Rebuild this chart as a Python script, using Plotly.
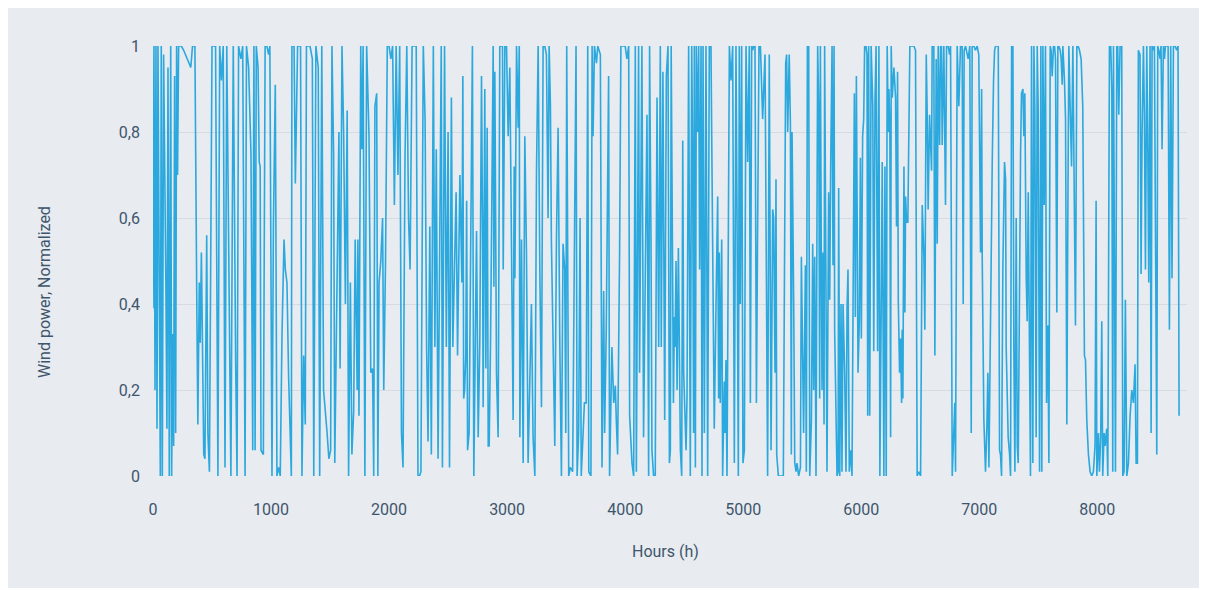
import plotly.graph_objects as go

# Hourly wind power (normalized)
hours_0 = [0,8,17,25,34,42,62,70,79,90,110,118,127,138,150,158,167,175,183,192,200,208,217,240,260,290,320,335,355,372,380,392,400,410,420,430,440,455,465,478,500,515,530,550,565,580,595,610,625,660,670,680,700,712,725,745,760,780,792,810,830,845]
power_0 = [0.39,1.0,0.2,1.0,0.11,1.0,0.0,1.0,0.0,0.98,0.42,0.11,0.95,0.0,1.0,0.0,0.33,0.07,0.93,0.10,1.0,0.70,1.0,1.0,0.99,0.97,0.95,1.0,1.0,0.37,0.12,0.45,0.31,0.52,0.30,0.05,0.04,0.56,0.10,0.01,1.0,1.0,1.0,0.0,1.0,0.92,1.0,0.02,1.0,0.0,0.60,1.0,0.27,0.0,1.0,0.97,1.0,0.0,1.0,0.95,0.75,0.06]

hours_1 = [855,865,875,890,900,908,915,935,950,965,980,990,1008,1020,1036,1050,1065,1078,1093,1110,1121,1135,1149,1160,1172,1177,1195,1206,1225,1250,1262,1276,1290,1300,1330,1350,1362,1380,1400,1412,1430,1445,1462,1475,1490,1505,1516,1530,1540,1555,1575,1585,1601,1615,1630,1645,1657,1672,1685,1700,1713,1730]
power_1 = [1.0,0.06,1.0,0.95,0.73,0.72,0.06,0.05,1.0,1.0,0.98,1.0,0.0,0.58,0.91,0.0,0.02,0.0,0.33,0.55,0.48,0.45,0.23,0.10,0.0,1.0,1.0,0.68,1.0,1.0,0.0,0.28,0.12,1.0,1.0,0.97,0.0,1.0,0.95,0.0,1.0,0.2,0.15,0.1,0.04,0.06,1.0,0.75,0.03,0.4,0.8,0.25,1.0,0.8,0.4,0.85,0.0,0.45,0.05,0.15,0.55,0.2]

hours_2 = [1736,1745,1760,1770,1780,1795,1810,1830,1845,1860,1870,1880,1895,1905,1915,1930,1945,1955,1970,1985,2000,2015,2030,2045,2060,2075,2090,2105,2118,2135,2150,2165,2178,2195,2210,2230,2245,2258,2270,2290,2305,2318,2330,2345,2358,2375,2388,2400,2415,2428,2442,2452,2470,2485,2500,2512,2528,2540,2555,2568,2580,2600]
power_2 = [0.55,0.14,1.0,0.76,1.0,0.0,1.0,0.79,0.24,0.25,0.0,0.86,0.89,0.0,0.45,0.5,0.6,0.2,0.5,1.0,1.0,0.97,1.0,0.63,1.0,0.7,1.0,0.1,0.02,0.74,1.0,0.6,0.48,1.0,1.0,1.0,0.0,0.0,0.01,1.0,0.83,0.3,0.08,0.58,0.05,1.0,0.3,0.76,0.04,0.6,1.0,0.02,1.0,0.3,0.8,0.02,0.88,0.3,0.5,0.66,0.28,0.7]

hours_3 = [2617,2625,2632,2640,2650,2657,2665,2678,2706,2718,2741,2755,2769,2783,2792,2797,2811,2820,2831,2840,2848,2860,2874,2882,2888,2896,2910,2924,2938,2952,2961,2967,2981,2995,3009,3023,3037,3051,3060,3066,3080,3094,3103,3108,3122,3136,3150,3164,3178,3192,3206,3220,3235,3249,3263,3277,3291,3305,3319,3333,3347,3356,3367,3375,3390,3404,3418,3432,3446,3460,3474,3488]
power_3 = [0.45,0.93,0.18,0.2,0.28,0.64,0.06,0.1,1.0,0.0,0.57,0.09,0.32,0.93,0.57,0.16,0.9,0.25,0.81,0.07,0.07,0.32,0.75,1.0,0.44,0.94,0.24,0.09,1.0,1.0,1.0,0.48,1.0,1.0,0.79,0.95,0.6,0.13,0.72,0.46,1.0,0.81,1.0,0.09,0.55,0.03,0.79,0.52,0.03,0.24,0.4,0.09,0.0,0.71,1.0,0.48,0.16,1.0,1.0,0.98,0.6,1.0,0.86,0.55,0.32,0.07,0.55,0.81,0.32,0.0,0.54,0.48]

hours_4 = [3497,3505,3522,3535,3555,3584,3593,3606,3618,3628,3655,3670,3683,3692,3710,3720,3728,3740,3757,3768,3790,3804,3818,3826,3840,3860,3868,3888,3903,3917,3925,3936,3953,3964,3985,4000,4015,4030,4038,4058,4072,4086,4095,4114,4122,4142,4156,4170,4185,4199,4207,4219,4227,4241,4255,4270,4284,4298,4306,4320,4335,4349,4363,4375]
power_4 = [0.1,1.0,0.0,0.02,0.01,1.0,0.0,0.1,0.6,0.0,0.17,0.17,1.0,0.01,0.0,1.0,0.79,1.0,0.96,1.0,0.98,0.02,0.43,0.1,0.34,0.93,0.0,0.3,0.17,0.21,0.13,0.05,0.52,1.0,1.0,1.0,0.97,1.0,0.14,0.03,0.0,1.0,0.01,1.0,0.24,1.0,0.09,0.4,0.84,0.0,1.0,0.55,0.06,0.0,0.0,0.88,0.3,1.0,0.3,0.94,0.13,0.93,1.0,0.03]

hours_5 = [4383,4390,4409,4417,4423,4431,4440,4451,4459,4468,4479,4488,4496,4508,4516,4524,4538,4552,4564,4572,4580,4586,4595,4603,4614,4623,4631,4643,4651,4660,4671,4685,4693,4699,4713,4727,4741,4755,4770,4784,4792,4798,4806,4818,4826,4840,4846,4854,4863,4883,4897,4911,4925,4939,4948,4959,4967,4976,4987,4998,5010,5024,5038,5052,5061,5072,5080,5089,5100,5112,5123,5134,5146,5165,5185,5207,5221,5236,5250]
power_5 = [0.06,1.0,0.17,0.37,0.3,0.5,0.2,0.53,0.24,0.06,0.0,0.78,0.24,0.13,0.06,0.18,1.0,0.0,1.0,0.74,0.1,1.0,0.02,1.0,0.8,1.0,0.48,1.0,0.0,1.0,0.1,1.0,0.32,0.0,1.0,1.0,0.55,0.11,0.4,0.65,0.18,0.52,0.17,0.55,0.0,0.22,0.1,0.27,0.0,1.0,0.92,1.0,0.03,1.0,0.6,0.0,1.0,0.4,1.0,0.03,0.06,1.0,0.73,1.0,0.17,1.0,0.99,1.0,1.0,0.17,0.6,1.0,1.0,0.83,0.98,0.0,0.98,0.06,0.62]

hours_6 = [5258,5270,5278,5284,5292,5298,5340,5360,5368,5377,5390,5400,5408,5414,5428,5437,5448,5456,5470,5485,5493,5504,5512,5527,5535,5544,5555,5564,5578,5589,5597,5606,5617,5631,5640,5648,5654,5662,5668,5676,5685,5690,5702,5710,5724,5733,5741,5753,5761,5770,5775,5787,5795,5804,5809,5818,5829,5837,5846,5860,5871,5880,5888,5899,5911,5922,5933,5942,5950,5959,5973,5984,5993,6001,6012,6021,6029,6040,6049,6055,6063,6072,6084,6098,6106,6117,6126]
power_6 = [0.6,0.24,0.69,0.05,0.01,0.0,0.0,0.96,0.98,0.8,0.98,0.82,0.05,0.8,0.4,0.03,0.01,0.03,0.0,0.02,0.51,0.3,0.1,0.49,0.01,1.0,1.0,0.0,0.13,0.54,0.2,0.51,0.0,1.0,0.86,0.18,1.0,0.51,0.2,0.52,0.12,1.0,0.48,0.01,0.66,0.41,0.71,1.0,0.49,1.0,0.34,0.1,0.0,0.01,0.67,0.0,0.4,0.01,0.4,0.24,0.01,0.39,0.48,0.01,0.06,0.0,0.61,0.89,0.37,0.93,0.24,0.36,0.74,0.32,0.79,0.83,1.0,1.0,0.98,0.14,1.0,0.14,1.0,0.86,0.29,0.88,1.0]

hours_7 = [6139,6150,6158,6172,6178,6192,6201,6212,6220,6229,6235,6243,6249,6254,6263,6277,6291,6299,6308,6314,6325,6333,6342,6347,6353,6362,6370,6376,6384,6395,6404,6412,6432,6446,6460,6474,6488,6503,6517,6531,6539,6551,6559,6567,6579,6587,6596,6601,6615,6624,6635,6644,6652,6664,6672,6680,6686,6700,6714,6723,6737,6748,6757,6771,6785,6793,6799,6813,6827,6841,6855,6864,6872,6884,6898,6906,6920,6932,6940,6954,6968,6982,6996,7011]
power_7 = [0.29,1.0,0.0,0.48,0.73,0.0,0.72,0.0,1.0,0.8,0.9,0.79,0.09,1.0,0.88,0.95,0.88,0.58,0.94,0.41,0.24,0.32,0.17,0.34,0.18,0.72,0.38,0.65,0.59,0.59,0.86,1.0,1.0,1.0,0.99,0.0,0.01,0.0,0.63,0.51,0.34,0.98,0.84,0.62,0.84,0.79,0.71,1.0,1.0,0.28,0.97,0.54,1.0,0.77,1.0,1.0,0.77,1.0,0.63,1.0,1.0,0.98,1.0,0.0,0.09,0.17,0.01,1.0,0.86,1.0,1.0,0.4,0.99,1.0,0.98,0.97,1.0,0.1,1.0,1.0,0.99,1.0,0.98,0.52]

hours_8 = [7020,7025,7039,7053,7065,7073,7082,7093,7110,7121,7130,7138,7149,7161,7172,7180,7189,7200,7214,7223,7228,7237,7245,7257,7265,7274,7285,7293,7302,7313,7322,7330,7341,7350,7358,7370,7378,7386,7398,7406,7415,7426,7434,7443,7454,7463,7471,7482,7491,7499,7511,7522,7530,7539,7550,7561,7570,7581,7590,7601,7609,7618,7629,7638,7646,7657,7666,7674,7686,7694,7703,7708,7722,7731,7742,7750,7759,7770,7782,7793,7804,7815,7827,7838,7849,7863,7877,7891]
power_8 = [0.9,0.51,0.13,0.01,0.12,0.24,0.02,0.38,0.73,0.92,0.99,1.0,1.0,1.0,0.06,0.05,0.0,0.48,0.73,0.69,0.3,0.17,0.09,0.05,0.0,1.0,1.0,0.3,0.01,0.6,0.07,0.03,0.53,0.75,0.89,0.9,0.79,0.89,0.46,0.36,0.66,0.24,0.0,1.0,0.03,1.0,0.85,0.09,1.0,0.86,0.01,1.0,0.01,1.0,0.63,1.0,0.17,0.35,0.03,1.0,0.99,0.93,1.0,1.0,0.97,0.38,1.0,1.0,0.99,0.97,0.91,1.0,0.92,0.83,0.12,0.58,1.0,0.86,0.72,1.0,0.62,0.35,1.0,1.0,0.99,0.97,0.86,0.28]

hours_9 = [7900,7911,7925,7939,7953,7967,7981,7990,7996,8010,8018,8029,8038,8046,8058,8066,8080,8089,8103,8114,8123,8131,8137,8145,8154,8165,8173,8182,8193,8207,8216,8227,8238,8250,8264,8278,8292,8306,8320,8329,8340,8348,8362,8371,8379,8391,8399,8408,8419,8427,8436,8447,8456,8464,8475,8484,8492,8504,8512,8521,8532,8540,8549,8560,8569,8577,8588,8600,8611,8622,8633,8645,8659,8673,8684,8693]
power_9 = [0.27,0.13,0.05,0.01,0.0,0.01,0.07,0.64,0.0,0.1,0.01,0.09,0.36,0.0,0.1,0.07,0.11,0.0,1.0,1.0,0.9,0.01,1.0,0.59,0.01,1.0,1.0,0.84,1.0,1.0,0.0,0.01,0.41,0.0,0.03,0.14,0.2,0.17,0.26,0.03,0.03,0.99,0.98,0.47,0.79,1.0,0.84,0.48,1.0,0.8,0.45,1.0,0.1,1.0,0.99,1.0,0.6,0.05,1.0,0.99,0.97,1.0,0.76,1.0,0.97,1.0,1.0,1.0,0.34,1.0,0.46,1.0,1.0,0.99,1.0,0.14]

x_ticks = [0, 1000, 2000, 3000, 4000, 5000, 6000, 7000, 8000]
y_ticks = [0, 0.2, 0.4, 0.6, 0.8, 1]
y_labels = ["0", "0,2", "0,4", "0,6", "0,8", "1"]
x_title = "Hours (h)"
y_title = "Wind power, Normalized"

hour_segs = [hours_0, hours_1, hours_2, hours_3, hours_4, hours_5, hours_6, hours_7, hours_8, hours_9]
power_segs = [power_0, power_1, power_2, power_3, power_4, power_5, power_6, power_7, power_8, power_9]
hours, power = [], []
for hs, ps in zip(hour_segs, power_segs):
    for h, p in zip(hs, ps, strict=True):
        hours.append(h)
        power.append(p)

BG = "#e8ebef"
TXT = "#3e566d"
FONT = "Roboto"

fig = go.Figure()
fig.add_trace(go.Scatter(
    x=hours, y=power, mode="lines",
    line=dict(color="#2ba8dd", width=1.6),
    hoverinfo="skip", showlegend=False,
))

fig.update_layout(
    width=1196, height=580,
    margin=dict(l=145, r=17, t=38, b=112),
    paper_bgcolor=BG,
    plot_bgcolor=BG,
    font=dict(family=FONT, size=16, color=TXT),
    separators=",.",
    showlegend=False,
    annotations=[
        dict(text=x_title, xref="paper", yref="paper", x=0.496, y=-0.1767,
             showarrow=False, font=dict(family=FONT, size=16, color=TXT),
             xanchor="center", yanchor="middle"),
        dict(text=y_title, xref="paper", yref="paper", x=-0.1044, y=0.428,
             showarrow=False, textangle=-90,
             font=dict(family=FONT, size=16, color=TXT),
             xanchor="center", yanchor="middle"),
    ],
)
fig.update_xaxes(
    range=[0, 8760], tickvals=x_ticks, showgrid=False, zeroline=False,
    showline=False, ticks="", ticklabelstandoff=22,
    tickfont=dict(family=FONT, size=16, color=TXT),
)
fig.update_yaxes(
    range=[0, 1], tickvals=y_ticks, ticktext=y_labels, showgrid=True,
    gridcolor="#d6dbe1", gridwidth=1, zeroline=False, showline=False,
    ticks="", ticklabelstandoff=12,
    tickfont=dict(family=FONT, size=16, color=TXT),
)

fig.write_html("out.html")
